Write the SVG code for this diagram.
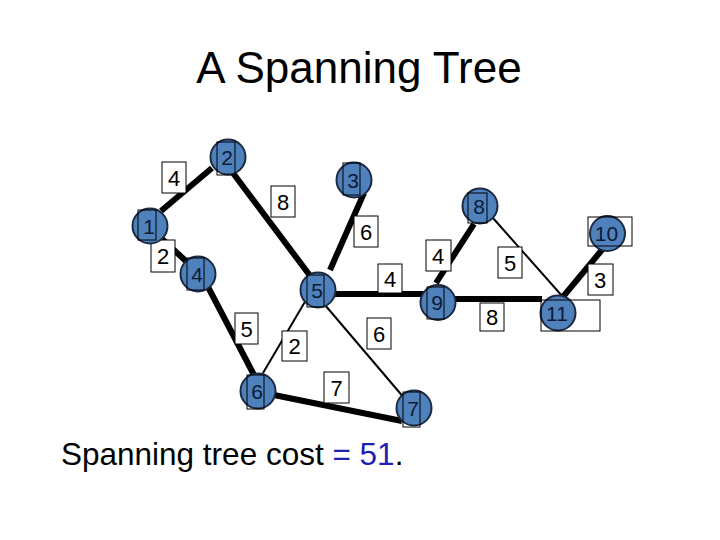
<svg xmlns="http://www.w3.org/2000/svg" width="720" height="540" viewBox="0 0 720 540">
<style>
text{font-family:"Liberation Sans",Arial,sans-serif;}
.title{font-size:44px;fill:#000;}
.cost{font-size:31.5px;fill:#000;}
.t{stroke:#000;stroke-width:6;stroke-linecap:butt;}
.n{stroke:#000;stroke-width:2;}
.lb{fill:#fff;stroke:#000;stroke-width:1;}
.lt{font-size:22px;fill:#000;text-anchor:middle;}
.c{fill:#4F81BD;stroke:#1C2A44;stroke-width:2;}
.nb{fill:none;stroke:#000;stroke-width:1;}
.nt{font-size:21px;fill:#0E1A33;text-anchor:middle;}
</style>
<rect width="720" height="540" fill="#fff"/>
<text class="title" x="359" y="83" text-anchor="middle">A Spanning Tree</text>
<g id="connectors">
<line class="t" x1="212" y1="168" x2="161" y2="211"/>
<line class="t" x1="161" y1="238" x2="188" y2="263"/>
<line class="t" x1="233" y1="173" x2="311" y2="277"/>
<line class="t" x1="364" y1="193" x2="330" y2="270"/>
<line class="t" x1="334" y1="294" x2="424" y2="294"/>
<line class="t" x1="474" y1="224" x2="436" y2="283"/>
<line class="n" x1="493" y1="218" x2="563" y2="297"/>
<line class="t" x1="606" y1="245" x2="562" y2="298"/>
<line class="t" x1="454" y1="299" x2="542" y2="299"/>
<line class="t" x1="207" y1="285" x2="254" y2="375"/>
<line class="n" x1="306" y1="300" x2="263" y2="373"/>
<line class="n" x1="325" y1="305" x2="405" y2="399"/>
<line class="t" x1="274" y1="395" x2="402" y2="421"/>
</g>
<g id="edge-labels">
<rect class="lb" x="162" y="162" width="24" height="31"/><text class="lt" x="174" y="186">4</text>
<rect class="lb" x="151" y="240" width="24" height="32"/><text class="lt" x="163" y="264">2</text>
<rect class="lb" x="271" y="186" width="24" height="31"/><text class="lt" x="283" y="210">8</text>
<rect class="lb" x="354" y="216" width="24" height="31"/><text class="lt" x="366" y="240">6</text>
<rect class="lb" x="378" y="264" width="24" height="29"/><text class="lt" x="390" y="287">4</text>
<rect class="lb" x="426" y="240" width="25" height="31"/><text class="lt" x="438" y="264">4</text>
<rect class="lb" x="498" y="247" width="24" height="31"/><text class="lt" x="510" y="271">5</text>
<rect class="lb" x="588" y="264" width="25" height="31"/><text class="lt" x="600" y="288">3</text>
<rect class="lb" x="480" y="303" width="24" height="28"/><text class="lt" x="492" y="325">8</text>
<rect class="lb" x="235" y="313" width="23" height="31"/><text class="lt" x="246.5" y="337">5</text>
<rect class="lb" x="282" y="331" width="25" height="30"/><text class="lt" x="294.5" y="354">2</text>
<rect class="lb" x="367" y="318" width="24" height="31"/><text class="lt" x="379" y="342">6</text>
<rect class="lb" x="324" y="372" width="25" height="31"/><text class="lt" x="336.5" y="396">7</text>
</g>
<g id="node1"><circle class="c" cx="150" cy="226" r="17.5"/><rect class="nb" x="138" y="210" width="18" height="30"/><text class="nt" x="149" y="234">1</text></g>
<g id="node2"><circle class="c" cx="228" cy="157" r="17.5"/><rect class="nb" x="217" y="142" width="18" height="33"/><text class="nt" x="227" y="165">2</text></g>
<g id="node3"><circle class="c" cx="354" cy="180" r="17.5"/><rect class="nb" x="343" y="163" width="17" height="32"/><text class="nt" x="353" y="188">3</text></g>
<g id="node4"><circle class="c" cx="198" cy="274" r="17.5"/><rect class="nb" x="187" y="258" width="17" height="32"/><text class="nt" x="197" y="282">4</text></g>
<g id="node5"><circle class="c" cx="318" cy="290" r="17.5"/><rect class="nb" x="307" y="275" width="17" height="32"/><text class="nt" x="317" y="298">5</text></g>
<g id="node6"><circle class="c" cx="258" cy="391" r="17.5"/><rect class="nb" x="247" y="375" width="17" height="34"/><text class="nt" x="257" y="399">6</text></g>
<g id="node7"><circle class="c" cx="414" cy="408" r="17.5"/><rect class="nb" x="403" y="392" width="17" height="35"/><text class="nt" x="413" y="416">7</text></g>
<g id="node8"><circle class="c" cx="480" cy="206" r="17.5"/><rect class="nb" x="468" y="193" width="19" height="30"/><text class="nt" x="479" y="214">8</text></g>
<g id="node9"><circle class="c" cx="438" cy="302.5" r="17.5"/><rect class="nb" x="427" y="287" width="17" height="32"/><text class="nt" x="437" y="310">9</text></g>
<g id="node10"><circle class="c" cx="607.5" cy="233.5" r="17.5"/><rect class="nb" x="588" y="217" width="44" height="29"/><text class="nt" x="606.5" y="241">10</text></g>
<g id="node11"><circle class="c" cx="558" cy="313" r="17.5"/><rect class="nb" x="541" y="300" width="59" height="31"/><text class="nt" x="557" y="321">11</text></g>
<text class="cost" x="61" y="465">Spanning tree cost <tspan fill="#1F1FB4">= 51</tspan>.</text>
</svg>
